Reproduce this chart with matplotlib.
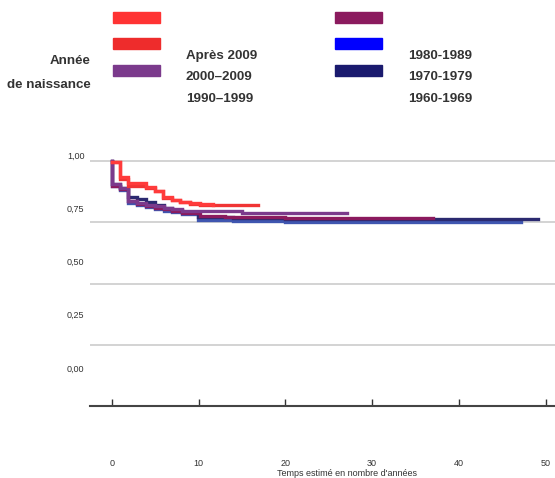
import matplotlib
matplotlib.use("Agg")
import matplotlib.pyplot as plt
from matplotlib.patches import Rectangle

plt.rcParams['font.family'] = ['Liberation Sans', 'DejaVu Sans']

# Kaplan-Meier style survival curves by birth cohort
times_apres2009 = [0, 0.9, 1.9, 3.95, 5.0, 5.95, 6.9, 7.9, 9.0, 10.2, 11.7]
surv_apres2009 = [0.997, 0.936, 0.909, 0.895, 0.879, 0.852, 0.841, 0.834, 0.827, 0.823, 0.820]

times_2000 = [0, 0.9, 1.9, 3.95, 5.0, 5.95, 6.9, 7.9, 9.0, 10.2, 11.7, 16.9]
surv_2000 = [0.997, 0.928, 0.900, 0.890, 0.876, 0.850, 0.840, 0.833, 0.826, 0.822, 0.819, 0.819]

times_1990 = [0, 0.02, 0.9, 1.9, 2.95, 4.0, 5.0, 6.0, 7.0, 8.1, 10.9, 15.0, 27.1]
surv_1990 = [1.0, 0.905, 0.888, 0.838, 0.830, 0.822, 0.815, 0.809, 0.803, 0.797, 0.794, 0.786, 0.786]

times_1980 = [0, 0.02, 0.9, 1.9, 2.95, 4.0, 5.0, 6.0, 7.0, 8.1, 10.2, 13.0, 20.0, 37.0]
surv_1980 = [1.0, 0.900, 0.885, 0.835, 0.826, 0.818, 0.810, 0.803, 0.795, 0.788, 0.774, 0.770, 0.766, 0.766]

times_1970 = [0, 0.02, 0.9, 1.9, 2.95, 4.0, 5.0, 6.0, 7.0, 8.1, 9.9, 14.0, 20.0, 47.1]
surv_1970 = [1.0, 0.898, 0.882, 0.830, 0.822, 0.813, 0.805, 0.797, 0.790, 0.782, 0.760, 0.756, 0.751, 0.751]

times_1960 = [0, 0.02, 0.9, 1.9, 2.95, 4.0, 5.0, 6.0, 7.0, 8.1, 9.9, 14.0, 20.0, 49.1]
surv_1960 = [1.0, 0.905, 0.888, 0.852, 0.844, 0.834, 0.822, 0.810, 0.800, 0.790, 0.770, 0.766, 0.763, 0.763]

legend_labels_left = ["Après 2009", "2000–2009", "1990–1999"]
legend_labels_right = ["1980-1989", "1970-1979", "1960-1969"]
legend_colors_left = ["#FF3333", "#EE2C2C", "#7B3A8C"]
legend_colors_right = ["#8B1A5E", "#0000FF", "#1A1A6E"]

y_ticks = [0.0, 0.25, 0.50, 0.75, 1.00]
y_tick_labels = ["0,00", "0,25", "0,50", "0,75", "1,00"]
x_ticks = [0, 10, 20, 30, 40, 50]

W, H = 555, 478
fig = plt.figure(figsize=(W / 100, H / 100), dpi=100)

ax = fig.add_axes([90 / W, (H - 406) / H, 1 - 90 / W, (406 - 150) / H])
ax.set_xlim(-2.5, 51.07)
ax.set_ylim(0, 1.0449)

for v in y_ticks[1:]:
    ax.axhline(v, color="#cccccc", lw=1.2, zorder=1)

series = [
    (times_1970, surv_1970, "#3F56B0"),
    (times_1960, surv_1960, "#2B2A70"),
    (times_1980, surv_1980, "#8B1A5E"),
    (times_1990, surv_1990, "#7B3A8C"),
    (times_2000, surv_2000, "#F03434"),
    (times_apres2009, surv_apres2009, "#FF3B3B"),
]
for t, s, c in series:
    ax.step(t, s, where="post", color=c, lw=2.4, solid_joinstyle="miter", zorder=3)

for side in ("left", "right", "top"):
    ax.spines[side].set_visible(False)
ax.spines["bottom"].set_color("#444444")
ax.spines["bottom"].set_linewidth(1.5)
ax.set_yticks([])
ax.set_xticks(x_ticks)
ax.set_xticklabels([str(v) for v in x_ticks])
ax.tick_params(axis="x", direction="in", length=5, width=1, color="#333333",
               pad=38, labelsize=6.5, labelcolor="#333333")
ax.set_xlabel("Temps estimé en nombre d'années", fontsize=6.5, color="#333333")
ax.xaxis.set_label_coords((346.7 - 90) / 465, -0.245)

# y tick labels on their own axis
ay = fig.add_axes([90 / W, (H - 368) / H, 0.01, (368 - 155) / H])
ay.set_ylim(0, 1)
ay.set_xticks([])
ay.set_yticks(y_ticks)
ay.set_yticklabels(y_tick_labels)
ay.tick_params(axis="y", length=0, pad=4, labelsize=6.5, labelcolor="#333333")
for sp in ay.spines.values():
    sp.set_visible(False)
ay.patch.set_alpha(0)

# legend block
sw_y = [12, 38, 65]
for i in range(3):
    fig.add_artist(Rectangle((113 / W, (H - sw_y[i] - 11) / H), 47 / W, 11 / H,
                             transform=fig.transFigure, color=legend_colors_left[i]))
    fig.add_artist(Rectangle((335 / W, (H - sw_y[i] - 11) / H), 47 / W, 11 / H,
                             transform=fig.transFigure, color=legend_colors_right[i]))

lab_y = [56, 77.5, 98.5]
for i in range(3):
    fig.text(186 / W, (H - lab_y[i]) / H, legend_labels_left[i], fontsize=9.6,
             fontweight="bold", color="#333333", va="center", ha="left")
    fig.text(408 / W, (H - lab_y[i]) / H, legend_labels_right[i], fontsize=9.6,
             fontweight="bold", color="#333333", va="center", ha="left")

fig.text(91 / W, (H - 61) / H, "Année", fontsize=9.6, fontweight="bold",
         color="#333333", va="center", ha="right")
fig.text(91 / W, (H - 85) / H, "de naissance", fontsize=9.6, fontweight="bold",
         color="#333333", va="center", ha="right")

fig.savefig("out.png", dpi=100)
